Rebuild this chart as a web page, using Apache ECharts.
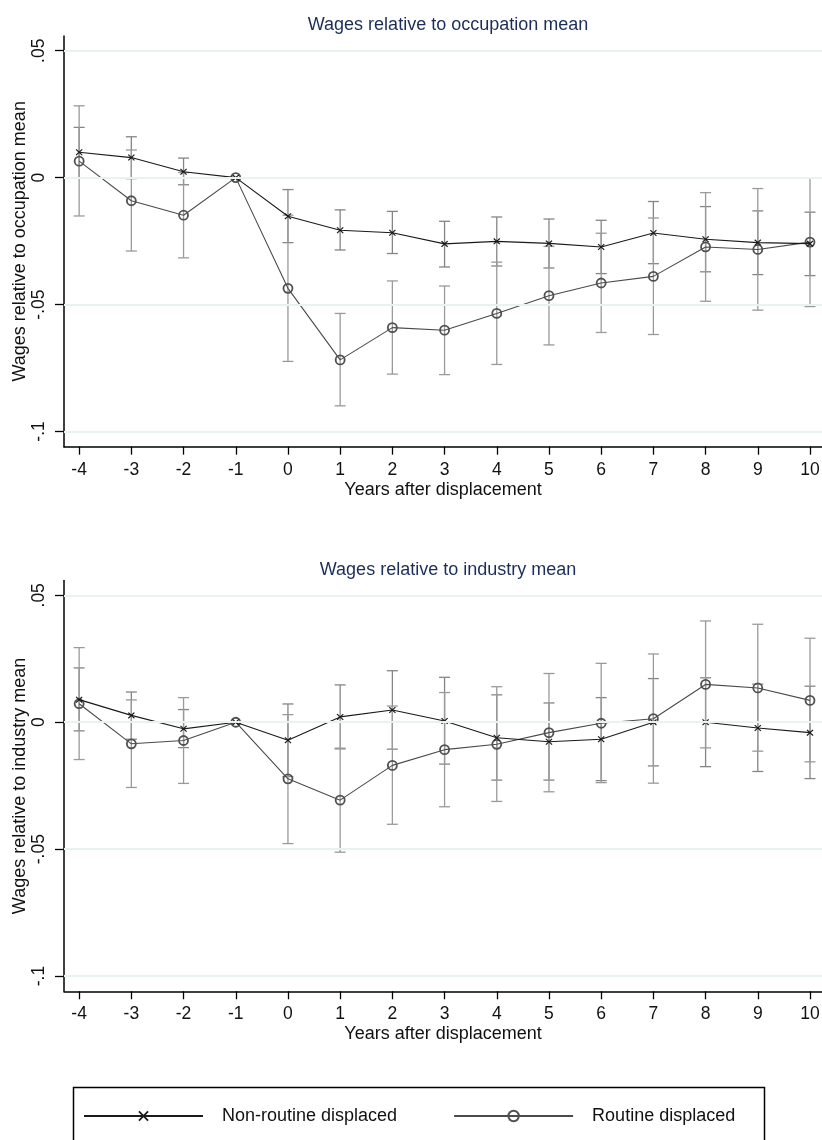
<!DOCTYPE html>
<html>
<head>
<meta charset="utf-8">
<script src="https://cdn.jsdelivr.net/npm/echarts@6/dist/echarts.min.js"></script>
<style>
  html, body { margin: 0; padding: 0; background: #fff; }
  #chart { width: 822px; height: 1140px; }
</style>
</head>
<body>
<div id="chart"></div>
<script>
// Event-study estimates by year relative to displacement, with 95% CIs
const years = [-4, -3, -2, -1, 0, 1, 2, 3, 4, 5, 6, 7, 8, 9, 10];
const yTicks = [-0.1, -0.05, 0, 0.05];
const yTickLabels = { '-0.1': '-.1', '-0.05': '-.05', '0': '0', '0.05': '.05' };

// Wages relative to occupation mean
const nonRoutineOcc   = [0.0100, 0.0079, 0.0023, 0, -0.0152, -0.0207, -0.0217, -0.0261, -0.0251, -0.0259, -0.0273, -0.0218, -0.0243, -0.0256, -0.0260];
const nonRoutineOccLo = [0.0000, -0.0004, -0.0028, null, -0.0256, -0.0285, -0.0299, -0.0352, -0.0348, -0.0356, -0.0378, -0.0339, -0.0371, -0.0382, -0.0386];
const nonRoutineOccHi = [0.0198, 0.0161, 0.0077, null, -0.0047, -0.0127, -0.0133, -0.0172, -0.0155, -0.0163, -0.0168, -0.0094, -0.0114, -0.0131, -0.0136];
const routineOcc      = [0.0065, -0.0091, -0.0148, 0, -0.0436, -0.0718, -0.0591, -0.0601, -0.0535, -0.0465, -0.0415, -0.0389, -0.0273, -0.0283, -0.0254];
const routineOccLo    = [-0.0151, -0.0289, -0.0316, null, -0.0724, -0.0899, -0.0774, -0.0776, -0.0736, -0.0659, -0.0610, -0.0618, -0.0487, -0.0522, -0.0508];
const routineOccHi    = [0.0283, 0.0109, 0.0020, null, -0.0148, -0.0535, -0.0407, -0.0427, -0.0333, -0.0271, -0.0219, -0.0159, -0.0059, -0.0043, 0.0000];

// Wages relative to industry mean
const nonRoutineInd   = [0.0089, 0.0027, -0.0026, 0, -0.0071, 0.0021, 0.0048, 0.0005, -0.0061, -0.0077, -0.0067, 0.0000, 0.0000, -0.0023, -0.0041];
const nonRoutineIndLo = [-0.0034, -0.0067, -0.0100, null, -0.0214, -0.0105, -0.0106, -0.0165, -0.0228, -0.0228, -0.0230, -0.0172, -0.0175, -0.0194, -0.0222];
const nonRoutineIndHi = [0.0214, 0.0119, 0.0050, null, 0.0072, 0.0147, 0.0203, 0.0177, 0.0108, 0.0076, 0.0097, 0.0172, 0.0175, 0.0150, 0.0142];
const routineInd      = [0.0073, -0.0085, -0.0072, 0, -0.0223, -0.0307, -0.0170, -0.0108, -0.0087, -0.0041, -0.0004, 0.0014, 0.0149, 0.0135, 0.0086];
const routineIndLo    = [-0.0147, -0.0257, -0.0241, null, -0.0478, -0.0512, -0.0402, -0.0333, -0.0312, -0.0274, -0.0238, -0.0240, -0.0101, -0.0114, -0.0156];
const routineIndHi    = [0.0294, 0.0088, 0.0097, null, 0.0030, -0.0102, 0.0064, 0.0117, 0.0140, 0.0192, 0.0232, 0.0269, 0.0399, 0.0386, 0.0331];

const panelTitles = ['Wages relative to occupation mean', 'Wages relative to industry mean'];
const yNames = ['Wages relative to occupation mean', 'Wages relative to industry mean'];
const xName = 'Years after displacement';
const seriesNames = ['Non-routine displaced', 'Routine displaced'];

const FONT = '"Liberation Sans", Arial, Helvetica, sans-serif';
const TITLE_COLOR = '#1c2d5a';
const GRID_COLOR = '#e9f1f3';
const X_MARK = 'path://M0,1.2 L1.2,0 L5,3.8 L8.8,0 L10,1.2 L6.2,5 L10,8.8 L8.8,10 L5,6.2 L1.2,10 L0,8.8 L3.8,5 Z';

const grids = [
  { left: 64, top: 36, width: 758, height: 410.7, outerBoundsMode: 'none', containLabel: false },
  { left: 64, top: 580.6, width: 758, height: 410.7, outerBoundsMode: 'none', containLabel: false }
];

function xAxisFor(i) {
  return {
    type: 'value', gridIndex: i, min: -4.29, max: 10.23,
    name: xName, nameLocation: 'middle', nameGap: 34, nameMoveOverlap: false,
    nameTextStyle: { fontFamily: FONT, fontSize: 18, color: '#111' },
    axisLine: { show: true, onZero: false, lineStyle: { color: '#000', width: 1.5 } },
    axisTick: { show: true, length: 8, customValues: years, lineStyle: { color: '#000', width: 1.3 } },
    axisLabel: { customValues: years, fontFamily: FONT, fontSize: 17.5, color: '#111', margin: 14 },
    splitLine: { show: false }
  };
}

function yAxisFor(i) {
  return {
    type: 'value', gridIndex: i, min: -0.106, max: 0.0558,
    name: yNames[i], nameLocation: 'middle', nameGap: 35, nameMoveOverlap: false,
    nameTextStyle: { fontFamily: FONT, fontSize: 18, color: '#111' },
    axisLine: { show: true, onZero: false, lineStyle: { color: '#000', width: 1.5 } },
    axisTick: { show: true, length: 9, customValues: yTicks, lineStyle: { color: '#000', width: 1.3 } },
    axisLabel: {
      customValues: yTicks, rotate: 90, fontFamily: FONT, fontSize: 17.5, color: '#111', margin: 16,
      formatter: v => yTickLabels[String(Math.round(v * 100) / 100)] ?? String(v)
    },
    splitLine: { show: false }
  };
}

function errorBars(name, idx, lo, hi, color) {
  const data = [];
  years.forEach((yr, k) => { if (lo[k] != null && hi[k] != null) data.push([yr, lo[k], hi[k]]); });
  return {
    type: 'custom', name: name, xAxisIndex: idx, yAxisIndex: idx, z: 2,
    silent: true,
    encode: { x: 0, y: [1, 2] },
    data: data,
    renderItem: (params, api) => {
      const x = api.value(0);
      const a = api.coord([x, api.value(1)]);
      const b = api.coord([x, api.value(2)]);
      const w = 5.5;
      const style = { stroke: color, lineWidth: 1.3, fill: null };
      return {
        type: 'group',
        children: [
          { type: 'line', shape: { x1: a[0], y1: a[1], x2: b[0], y2: b[1] }, style },
          { type: 'line', shape: { x1: a[0] - w, y1: a[1], x2: a[0] + w, y2: a[1] }, style },
          { type: 'line', shape: { x1: b[0] - w, y1: b[1], x2: b[0] + w, y2: b[1] }, style }
        ]
      };
    }
  };
}

function gridLines(idx) {
  return {
    type: 'line', name: 'gridlines' + idx, xAxisIndex: idx, yAxisIndex: idx, z: 1,
    data: [], silent: true,
    markLine: {
      silent: true, symbol: 'none', label: { show: false },
      lineStyle: { color: GRID_COLOR, width: 1.8, type: 'solid' },
      data: yTicks.map(v => ({ yAxis: v }))
    }
  };
}

function nonRoutineLine(idx, values) {
  return {
    type: 'line', name: seriesNames[0], xAxisIndex: idx, yAxisIndex: idx, z: 4,
    data: years.map((yr, k) => [yr, values[k]]),
    symbol: X_MARK, symbolSize: [7, 6.5],
    lineStyle: { color: '#1a1a1a', width: 1.1 },
    itemStyle: { color: '#1a1a1a' },
    emphasis: { disabled: true }
  };
}

function routineLine(idx, values) {
  return {
    type: 'line', name: seriesNames[1], xAxisIndex: idx, yAxisIndex: idx, z: 3,
    data: years.map((yr, k) => [yr, values[k]]),
    symbol: 'circle', symbolSize: 9,
    lineStyle: { color: '#4a4a4a', width: 1.1 },
    itemStyle: { color: 'rgba(255,255,255,0)', borderColor: '#505050', borderWidth: 1.8 },
    emphasis: { disabled: true }
  };
}

const chart = echarts.init(document.getElementById('chart'), null, { renderer: 'canvas' });

chart.setOption({
  animation: false,
  backgroundColor: '#fff',
  title: panelTitles.map((t, i) => ({
    text: t,
    left: 443, top: i === 0 ? 11 : 556, textAlign: 'center',
    textStyle: { fontFamily: FONT, fontSize: 18, fontWeight: 'normal', color: TITLE_COLOR }
  })),
  grid: grids,
  xAxis: [xAxisFor(0), xAxisFor(1)],
  yAxis: [yAxisFor(0), yAxisFor(1)],
  legend: {
    data: seriesNames,
    left: 78, top: 1102,
    itemWidth: 119, itemHeight: 13, itemGap: 56,
    textStyle: { fontFamily: FONT, fontSize: 18, color: '#111', padding: [0, 0, 0, 14] },
    selectedMode: false
  },
  graphic: [{
    type: 'rect', left: 71, top: 1085,
    shape: { width: 691, height: 90 },
    style: { fill: null, stroke: '#000', lineWidth: 1.5 },
    silent: true
  }],
  series: [
    gridLines(0), gridLines(1),
    errorBars('ci-nr-occ', 0, nonRoutineOccLo, nonRoutineOccHi, '#858585'),
    errorBars('ci-r-occ', 0, routineOccLo, routineOccHi, '#9a9a9a'),
    errorBars('ci-nr-ind', 1, nonRoutineIndLo, nonRoutineIndHi, '#858585'),
    errorBars('ci-r-ind', 1, routineIndLo, routineIndHi, '#9a9a9a'),
    routineLine(0, routineOcc), nonRoutineLine(0, nonRoutineOcc),
    routineLine(1, routineInd), nonRoutineLine(1, nonRoutineInd)
  ]
});
</script>
</body>
</html>
